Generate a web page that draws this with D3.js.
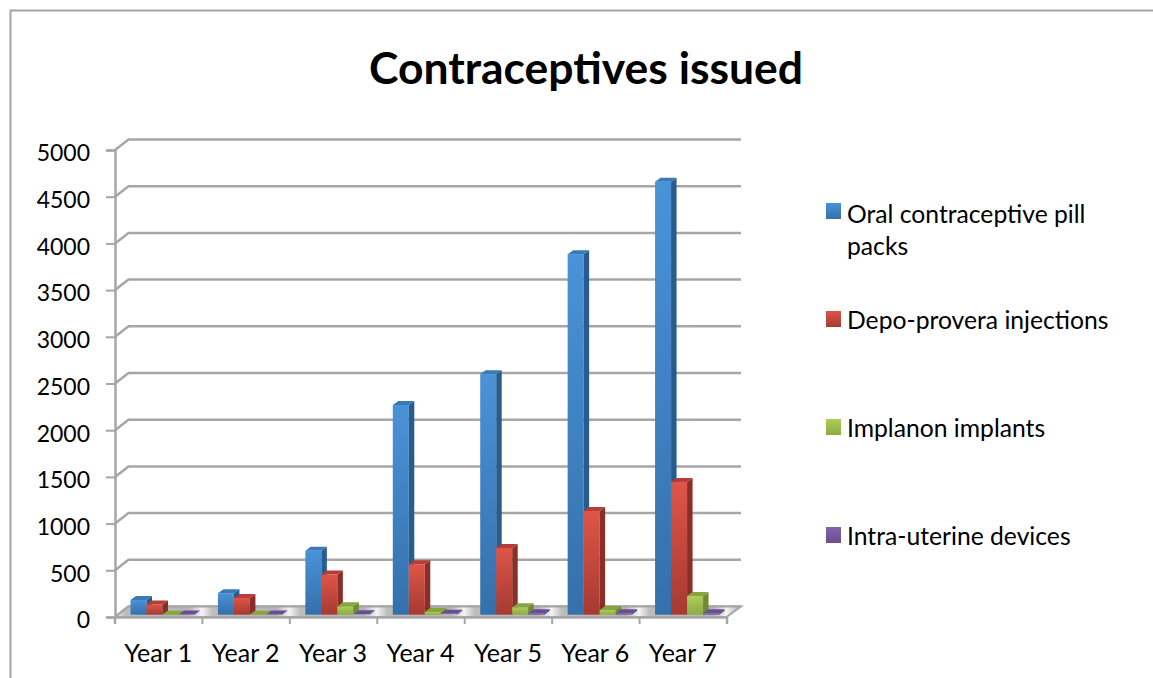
<!DOCTYPE html>
<html>
<head>
	<title>Contraceptives issued</title>
	<script type="text/javascript" src="https://d3js.org/d3.v7.min.js"></script>
	<style>
		html, body { margin: 0; padding: 0; background: #fff; overflow: hidden; }
		text { font-family: Lato, "Open Sans", sans-serif; fill: #000; }
	</style>
</head>
<body>
	<script type="text/javascript">
		var years = ["Year 1","Year 2","Year 3","Year 4","Year 5","Year 6","Year 7"];
		var seriesNames = ["Oral contraceptive pill packs","Depo-provera injections","Implanon implants","Intra-uterine devices"];

		var oralPills = [157,230,684,2245,2575,3860,4636];
		var depoProvera = [110,180,430,540,715,1110,1420];
		var implanon = [0,0,90,30,80,50,200];
		var iud = [2,2,5,10,15,15,15];
		var allSeries = [oralPills,depoProvera,implanon,iud];

		var yTicks = [0,500,1000,1500,2000,2500,3000,3500,4000,4500,5000];

		// front, side, top colours per series: light and dark end of the front gradient
		var colors = [
			{a:"#4a92d8",b:"#3470ab",side:"#285c8e",top:"#3a78b6"},
			{a:"#de5548",b:"#a63a31",side:"#8a2e28",top:"#b53f36"},
			{a:"#adcc5b",b:"#8cab42",side:"#6f8a34",top:"#86a53e"},
			{a:"#8463ab",b:"#6a4c8f",side:"#4f3870",top:"#6a4c95"}
		];

		var svg = d3.select("body").append("svg").attr("width",1153).attr("height",678)
			.style("display","block");
		var defs = svg.append("defs");

		// outer frame, cut off by the picture at right and bottom
		svg.append("path").attr("d","M10.5,678V10.5H1153")
			.attr("fill","none").attr("stroke","#a3a3a3").attr("stroke-width",2);

		svg.append("text").attr("x",586).attr("y",84).attr("text-anchor","middle")
			.attr("font-size",44).attr("font-weight",700).attr("textLength",434)
			.attr("lengthAdjust","spacingAndGlyphs").text("Contraceptives issued");

		var depthX = 13.5, depthY = 10.5;		// how far the back wall is from the front axis
		var barDX = 5.5, barDY = 4;				// depth of one bar

		var x = d3.scaleBand().domain(years).range([114.5,726.5]);
		var y = d3.scaleLinear().domain([0,5000]).range([617,150]);
		var inner = d3.scaleBand().domain(d3.range(4)).range([16,80]);

		// grid lines on the back wall with the little step to the front axis
		svg.append("g").selectAll("path").data(yTicks).enter().append("path")
			.attr("fill","none").attr("stroke","#a6a6a6").attr("stroke-width",2.5)
			.attr("d",function(d){
				var p = y(d);
				return "M115,"+p+"L"+(115+depthX)+","+(p-depthY)+"H741";
			});

		// floor, with a light patch repeated for each year
		var floorGrad = defs.append("linearGradient").attr("id","floor")
			.attr("gradientUnits","userSpaceOnUse").attr("spreadMethod","repeat")
			.attr("x1",114.5).attr("x2",114.5+x.step()).attr("y1",0).attr("y2",0);
		floorGrad.append("stop").attr("offset",0).attr("stop-color","#f4f4f4");
		floorGrad.append("stop").attr("offset",0.12).attr("stop-color","#bdbdbd");
		floorGrad.append("stop").attr("offset",0.85).attr("stop-color","#b5b5b5");
		floorGrad.append("stop").attr("offset",1).attr("stop-color","#f4f4f4");

		svg.append("path")
			.attr("d","M115,617L"+(115+depthX)+","+(617-depthY)+"H741L726.5,617Z")
			.attr("fill","url(#floor)").attr("stroke","#a6a6a6").attr("stroke-width",2);

		// axes
		var yAxis = d3.axisLeft(y).tickValues(yTicks).tickSize(9).tickPadding(16).tickFormat(d3.format("d"));
		var gy = svg.append("g").attr("transform","translate(115,0)").call(yAxis);
		gy.selectAll("line").attr("stroke","#a6a6a6").attr("stroke-width",2);
		gy.select(".domain").attr("stroke","#a6a6a6").attr("stroke-width",2.5);
		gy.selectAll("text").attr("font-size",23).attr("font-family","Lato").attr("dy","0.47em");

		var xTickAxis = d3.axisBottom(d3.scaleLinear().domain([0,7]).range([114.5,726.5]))
			.ticks(7).tickSize(7).tickFormat("");
		var gxt = svg.append("g").attr("transform","translate(0,617)").call(xTickAxis);
		gxt.selectAll("line").attr("stroke","#a6a6a6").attr("stroke-width",2);
		gxt.select(".domain").attr("stroke","#a6a6a6").attr("stroke-width",2.5);

		var xAxis = d3.axisBottom(x).tickSize(0).tickPadding(27);
		var gx = svg.append("g").attr("transform","translate(0,617)").call(xAxis);
		gx.select(".domain").remove();
		gx.selectAll("text").attr("font-size",25).attr("font-family","Lato");

		colors.forEach(function(c,i){
			var g = defs.append("linearGradient").attr("id","front"+i)
				.attr("x1",0).attr("x2",0).attr("y1",0).attr("y2",1);
			g.append("stop").attr("offset",0).attr("stop-color",c.a);
			g.append("stop").attr("offset",1).attr("stop-color",c.b);
		});

		// bars: base sits a little behind the front axis
		var base = 614.7;
		var unit = y(0) - y(1);
		var bars = svg.append("g");
		years.forEach(function(year,yi){
			allSeries.forEach(function(vals,si){
				var left = x(year) + inner(si);
				var w = inner.bandwidth();
				var h = vals[yi]*unit;
				var topY = base - h;
				var c = colors[si];
				var bar = bars.append("g");
				if (h > 1) {
					bar.append("rect").attr("x",left).attr("y",topY).attr("width",w).attr("height",h)
						.attr("fill","url(#front"+si+")");
				}
				bar.append("path")
					.attr("d","M"+(left+w)+","+topY+"l"+barDX+","+(-barDY)+"v"+h+"l"+(-barDX)+","+barDY+"Z")
					.attr("fill",c.side);
				bar.append("path")
					.attr("d","M"+left+","+topY+"l"+barDX+","+(-barDY)+"h"+w+"l"+(-barDX)+","+barDY+"Z")
					.attr("fill",c.top);
			});
		});

		// legend
		var legendRows = [
			{lines:["Oral contraceptive pill","packs"],top:203,textY:223},
			{lines:["Depo-provera injections"],top:311,textY:329},
			{lines:["Implanon implants"],top:419,textY:437},
			{lines:["Intra-uterine devices"],top:527,textY:545}
		];
		var legend = svg.append("g").selectAll("g").data(legendRows).enter().append("g");
		legend.append("rect").attr("x",826).attr("y",function(d){return d.top})
			.attr("width",15).attr("height",16)
			.attr("fill",function(d,i){return "url(#front"+i+")"});
		legend.each(function(d){
			var row = d3.select(this);
			d.lines.forEach(function(t,i){
				row.append("text").attr("x",847).attr("y",d.textY+i*32)
					.attr("font-size",24.7).text(t);
			});
		});
	</script>
</body>
</html>
